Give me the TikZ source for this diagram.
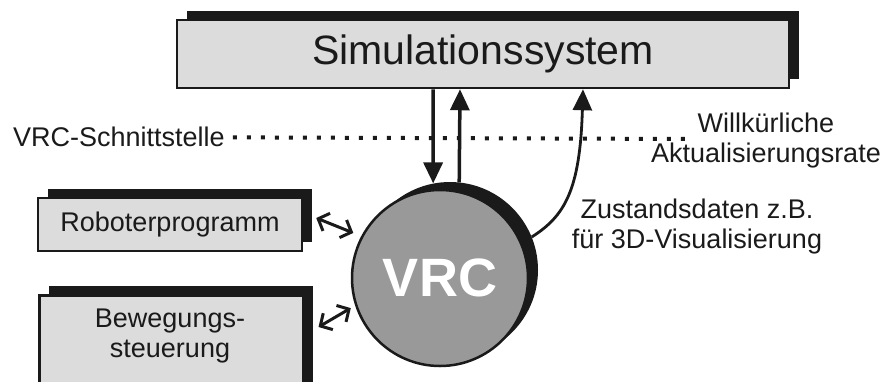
\documentclass[tikz,border=0pt]{standalone}
\usepackage{fontspec}
\setmainfont{Liberation Sans}
\usetikzlibrary{arrows.meta,calc,shadows}
\definecolor{boxgray}{HTML}{DCDCDC}
\definecolor{vrcgray}{HTML}{999999}
\definecolor{ink}{HTML}{1A1A1A}

\begin{document}
\begin{tikzpicture}[x=1pt,y=-1pt,
  panel/.style={draw=ink, line width=2.5pt, fill=boxgray, inner sep=0pt,
    drop shadow={shadow xshift=10pt, shadow yshift=9pt, fill=ink, opacity=1}},
  lbl/.style={font=\fontsize{27}{30}\selectfont, text=ink, align=center, inner sep=0pt},
  flow/.style={draw=ink, line width=3.5pt, -{Triangle[length=21pt,width=19pt]}},
  duplex/.style={draw=ink, line width=3pt,
    {Straight Barb[length=9pt,width=19pt]}-{Straight Barb[length=9pt,width=19pt]}},
  interface/.style={draw=ink, line width=4pt, dash pattern=on 4pt off 10pt},
]
\useasboundingbox (0,0) rectangle (886,381);
\clip (0,0) rectangle (886,381);

% interface line with its labels
\node[lbl, anchor=base west] (schnitt) at (13,146) {VRC-Schnittstelle};
\node[lbl] (rate) at (766,141) {Willkürliche\\Aktualisierungsrate};
\coordinate (dotend) at (690,139);
\draw[interface] ($(schnitt.east)+(8,1)$) -- (dotend);

% simulation system
\node[panel, minimum width=612pt, minimum height=68pt,
      font=\fontsize{41}{45}\selectfont, text=ink] (sim) at (483,54) {Simulationssystem};

% robot program and motion control
\node[panel, minimum width=264pt, minimum height=53pt, font=\fontsize{27}{30}\selectfont,
      text=ink] (robo) at (170,224.5) {Roboterprogramm};
\node[panel, minimum width=264pt, minimum height=110pt, anchor=north west] (motion) at (38,294) {};
\node[lbl] (motiontext) at (170,336) {Bewegungs-\\steuerung};

% VRC disc with its shadow
\node[circle, fill=ink, minimum size=176pt, inner sep=0pt] (vrcsh) at (450,270) {};
\node[circle, draw=ink, line width=2.5pt, fill=vrcgray, minimum size=176pt, inner sep=0pt,
      text=white, font=\fontsize{54}{54}\selectfont\bfseries] (vrc) at (440,278) {VRC};

% data flow between simulation system and VRC
\coordinate (dn) at (433,0);
\coordinate (up) at (460,0);
\coordinate (cv) at (583,0);
\draw[flow] (sim.south -| dn) -- (vrcsh.101);
\draw[flow] (vrcsh.84) -- (sim.south -| up);
\draw[draw=ink, line width=2.8pt, -{Triangle[length=21pt,width=19pt]}]
  (vrcsh.22) .. controls +(33,-21) and +(-3,101) .. (sim.south -| cv);
\node[lbl] (state) at (697,227) {Zustandsdaten z.B.\\für 3D-Visualisierung};

% exchange with the controller parts
\draw[duplex, shorten >=8.5pt] ($(robo.east)+(13,-6.5)$) -- (vrc.152);
\draw[duplex, shorten >=5pt] ($(motion.east |- 0,327)+(14,0)$) -- (vrc.198);
\end{tikzpicture}
\end{document}
